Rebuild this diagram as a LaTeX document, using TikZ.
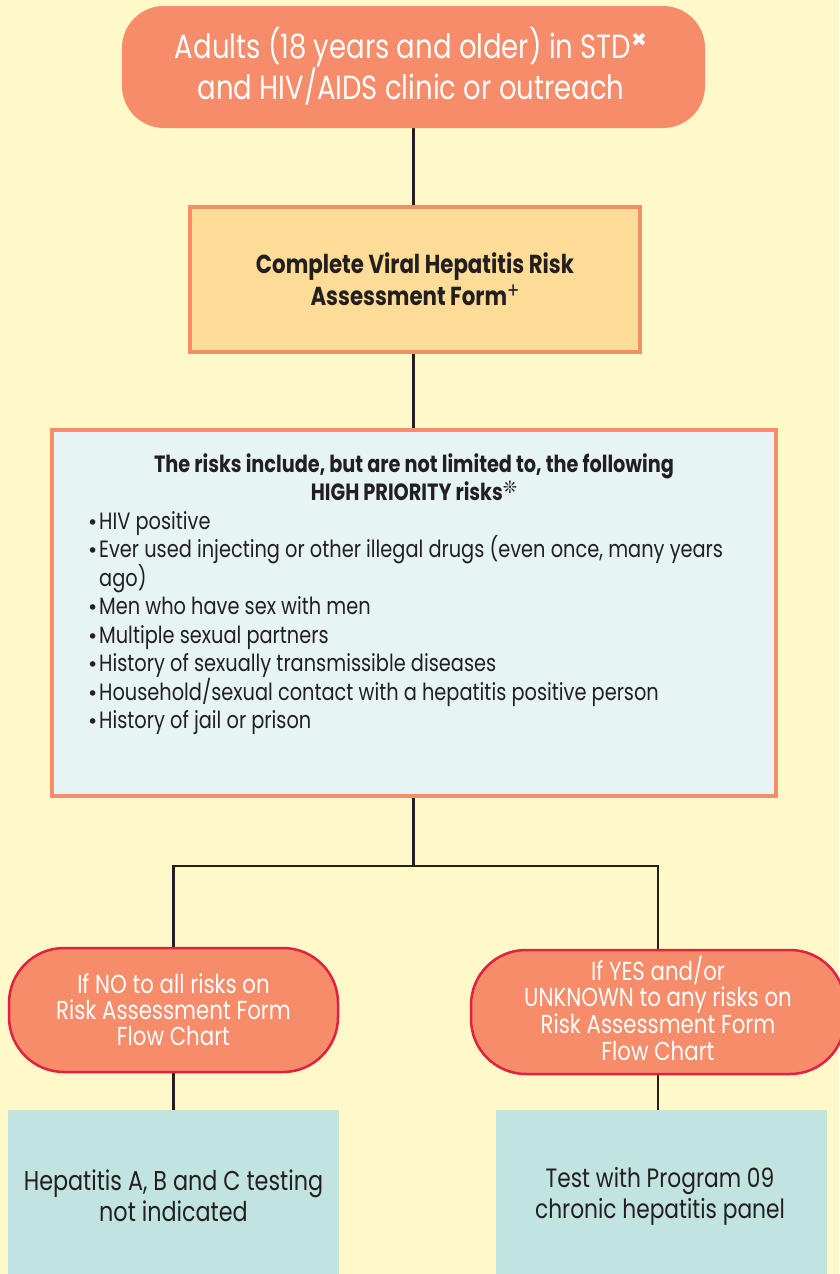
\documentclass[tikz,border=0pt]{standalone}
\usepackage{fontspec}
\setmainfont{Poppins}[FakeStretch=0.82]
\newfontfamily\symfont{DejaVu Sans}
\definecolor{bgyellow}{HTML}{FFF8C8}
\definecolor{salmon}{HTML}{F68C6A}
\definecolor{formfill}{HTML}{FDDC98}
\definecolor{riskfill}{HTML}{E6F5F4}
\definecolor{resultfill}{HTML}{C1E4E0}
\definecolor{pillborder}{HTML}{E2203F}
\definecolor{ink}{HTML}{231F20}
\pgfdeclarelayer{paper}
\pgfdeclarelayer{back}
\pgfsetlayers{paper,back,main}
\newcommand{\bul}{\makebox[12pt][l]{{\symfont\fontsize{19}{19}\selectfont •}}}
\tikzset{
  startbox/.style={rectangle, rounded corners=42pt, fill=salmon, draw=none, text=white, align=center, inner sep=0pt},
  formbox/.style={rectangle, fill=formfill, draw=salmon, line width=4.5pt, text=ink, align=center, inner sep=0pt},
  riskbox/.style={rectangle, fill=riskfill, draw=salmon, line width=4.5pt, inner sep=0pt},
  pillbox/.style={rectangle, rounded corners=55pt, fill=salmon, draw=pillborder, line width=2.5pt, text=white, align=center, inner sep=0pt},
  resultbox/.style={rectangle, fill=resultfill, draw=none, text=ink, align=center, inner sep=0pt},
  plain/.style={inner sep=0pt, text=ink},
  conn/.style={line width=2.2pt, draw=ink}
}
\begin{document}
\begin{tikzpicture}[x=1pt,y=1pt]
\begin{pgfonlayer}{paper}
\fill[bgyellow] (0,0) rectangle (839,-1274);
\end{pgfonlayer}
\useasboundingbox (0,0) rectangle (839,-1274);

\node[startbox, minimum width=583, minimum height=122] (top) at (413.5,-67) {};
\node[plain, text=white, align=center, font=\fontsize{33.5}{39}\selectfont] (toptext) at (411,-66)
  {Adults (18 years and older) in STD{\symfont\fontsize{19}{19}\selectfont\raisebox{12pt}{✖}}\\and HIV/AIDS clinic or outreach};

\node[formbox, minimum width=450, minimum height=145,
  font=\bfseries\fontsize{26}{32}\selectfont] (form) at (415,-279.5)
  {Complete Viral Hepatitis Risk\\Assessment Form{\mdseries\fontsize{22}{22}\selectfont\raisebox{7pt}{+}}};

\node[riskbox, minimum width=724, minimum height=366] (risk) at (414,-613) {};

\node[plain, align=center, font=\bfseries\fontsize{23.5}{28}\selectfont] (riskhead) at (414,-477)
  {The risks include, but are not limited to, the following\\HIGH PRIORITY risks{\symfont\mdseries\fontsize{17}{17}\selectfont\raisebox{7pt}{❊}}};

\node[plain, align=left, anchor=north west, font=\fontsize{23.6}{28.2}\selectfont] (risklist) at (87,-511)
  {\bul HIV positive\\
   \bul Ever used injecting or other illegal drugs (even once, many years\\
   \makebox[12pt][l]{}ago)\\
   \bul Men who have sex with men\\
   \bul Multiple sexual partners\\
   \bul History of sexually transmissible diseases\\
   \bul Household/sexual contact with a hepatitis positive person\\
   \bul History of jail or prison};

\node[pillbox, minimum width=329, minimum height=124,
  font=\fontsize{26}{26}\selectfont] (pillL) at (173.5,-1010)
  {If NO to all risks on\\Risk Assessment Form\\Flow Chart};

\node[pillbox, minimum width=374, minimum height=124] (pillR) at (658,-1012) {};
\node[plain, text=white, align=center, font=\fontsize{26}{26.3}\selectfont] (pillRtext) at (658,-1008)
  {If YES and/or\\UNKNOWN to any risks on\\Risk Assessment Form\\Flow Chart};

\node[resultbox, minimum width=331, minimum height=164] (resL) at (173.5,-1192) {};
\node[plain, align=center, font=\fontsize{27.2}{31}\selectfont] (resLtext) at (173.5,-1196)
  {Hepatitis A, B and C testing\\not indicated};

\node[resultbox, minimum width=331, minimum height=164] (resR) at (661.5,-1192) {};
\node[plain, align=center, font=\fontsize{26.5}{31}\selectfont] (resRtext) at (660,-1196)
  {Test with Program 09\\chronic hepatitis panel};

\coordinate (split) at (413.5,-866);

\begin{pgfonlayer}{back}
\draw[conn] (top.south) -- (top.south |- form.north);
\draw[conn] (form.south -| top.south) -- (top.south |- risk.north);
\draw[conn] (risk.south -| split) -- (split);
\draw[conn] (pillL.north) |- (split) -| (pillR.north);
\draw[conn] (pillL.south) -- (resL.north);
\draw[conn] (pillR.south) -- (pillR.south |- resR.north);
\end{pgfonlayer}
\end{tikzpicture}
\end{document}
